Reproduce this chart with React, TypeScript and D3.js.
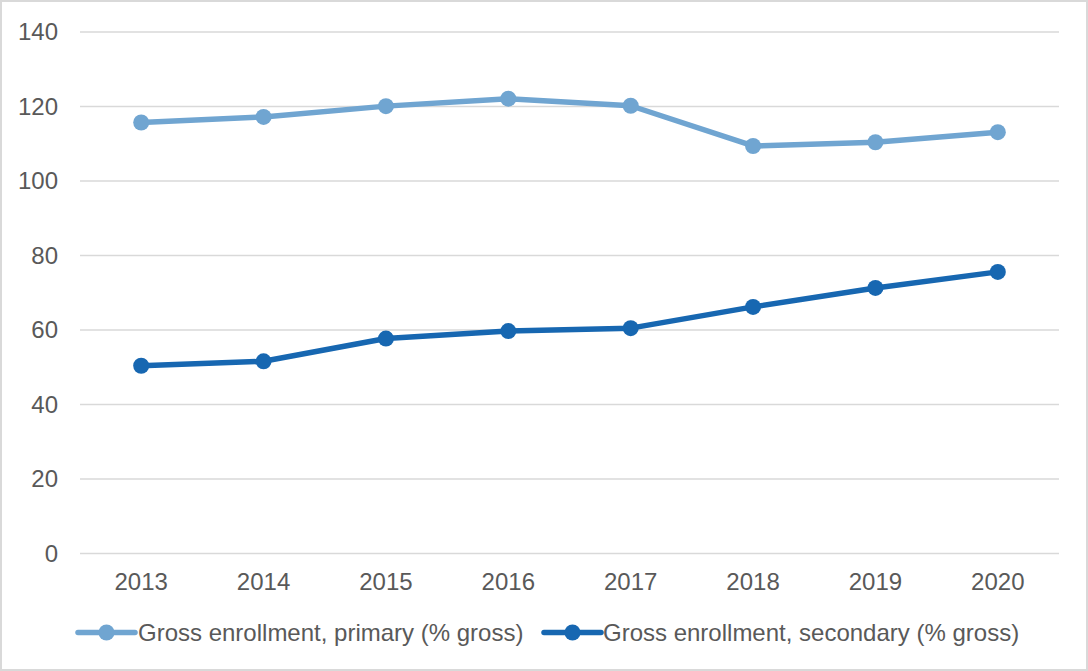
import React from "react";
import * as d3 from "d3";

const years = ["2013", "2014", "2015", "2016", "2017", "2018", "2019", "2020"];
const primary = [115.7, 117.2, 120.1, 122.1, 120.2, 109.4, 110.4, 113.1];
const secondary = [50.4, 51.6, 57.7, 59.7, 60.5, 66.2, 71.3, 75.6];
const yTicks = [0, 20, 40, 60, 80, 100, 120, 140];
const seriesNames = [
  "Gross enrollment, primary (% gross)",
  "Gross enrollment, secondary (% gross)",
];
const seriesColors = ["#70a5d1", "#1767b1"];

const W = 1088;
const H = 671;
const plot = { left: 80, right: 1059, top: 32, bottom: 553.5 };
const FONT = "'Liberation Sans', Arial, sans-serif";
const TEXT = "#595959";
const FS = 24;

export default function App() {
  const x = d3
    .scaleBand<string>()
    .domain(years)
    .range([plot.left, plot.right])
    .paddingInner(0)
    .paddingOuter(0);
  const y = d3.scaleLinear().domain([0, 140]).range([plot.bottom, plot.top]);
  const cx = (yr: string) => (x(yr) as number) + x.bandwidth() / 2;

  const line = d3
    .line<number>()
    .x((_, i) => cx(years[i]))
    .y((v) => y(v));

  const series = [primary, secondary];

  const legendItems = [
    { lineX: 78, textX: 138 },
    { lineX: 544, textX: 603 },
  ];
  const legendY = 632.5;

  return (
    <svg
      width={W}
      height={H}
      style={{ position: "absolute", left: 0, top: 0, background: "#fff" }}
    >
      <rect x={1} y={1} width={W - 2} height={H - 2} fill="#fff" stroke="#d9d9d9" strokeWidth={2} />
      {yTicks.map((t) => (
        <g key={t}>
          <line x1={plot.left} x2={plot.right} y1={y(t)} y2={y(t)} stroke="#d9d9d9" strokeWidth={1.5} />
          <text
            x={58}
            y={y(t)}
            dy="0.35em"
            textAnchor="end"
            fontFamily={FONT}
            fontSize={FS}
            fill={TEXT}
          >
            {t}
          </text>
        </g>
      ))}
      {years.map((yr) => (
        <text
          key={yr}
          x={cx(yr)}
          y={590}
          textAnchor="middle"
          fontFamily={FONT}
          fontSize={FS}
          fill={TEXT}
        >
          {yr}
        </text>
      ))}
      {series.map((vals, si) => (
        <g key={si}>
          <path
            d={line(vals) || ""}
            fill="none"
            stroke={seriesColors[si]}
            strokeWidth={5.5}
            strokeLinejoin="round"
            strokeLinecap="round"
          />
          {vals.map((v, i) => (
            <circle key={i} cx={cx(years[i])} cy={y(v)} r={8} fill={seriesColors[si]} />
          ))}
        </g>
      ))}
      {legendItems.map((it, si) => (
        <g key={si}>
          <line
            x1={it.lineX}
            x2={it.lineX + 57}
            y1={legendY}
            y2={legendY}
            stroke={seriesColors[si]}
            strokeWidth={5.5}
            strokeLinecap="round"
          />
          <circle cx={it.lineX + 28.5} cy={legendY} r={8} fill={seriesColors[si]} />
          <text
            x={it.textX}
            y={legendY}
            dy="0.35em"
            fontFamily={FONT}
            fontSize={FS}
            fill={TEXT}
          >
            {seriesNames[si]}
          </text>
        </g>
      ))}
    </svg>
  );
}
